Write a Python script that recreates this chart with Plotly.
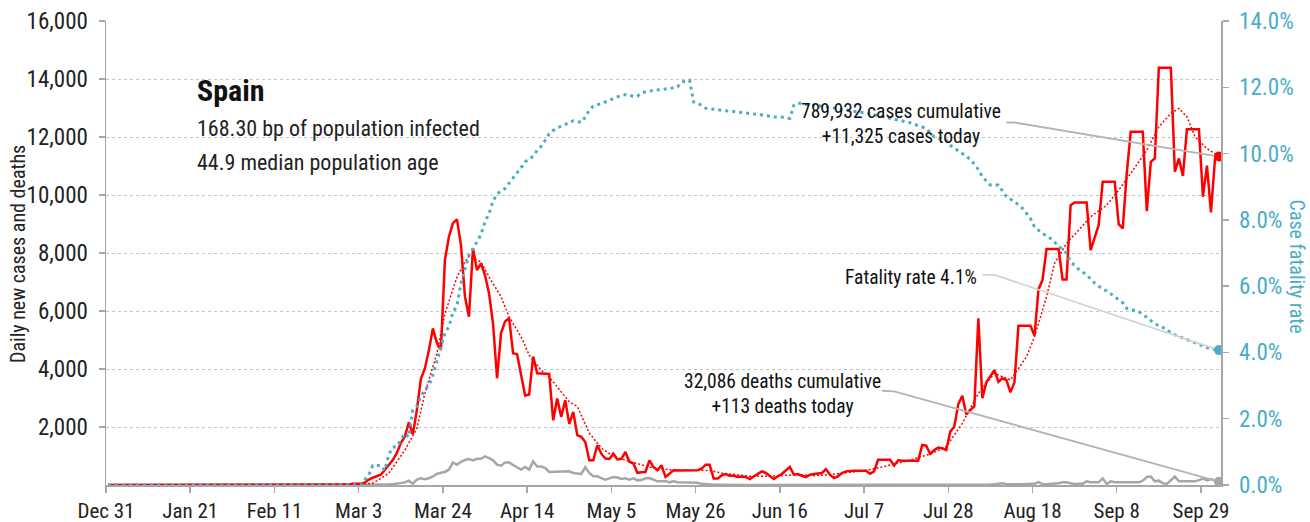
import pandas as pd
import plotly.graph_objects as go

# ---------------- data ----------------
start_date = "2019-12-31"

# daily new cases, Dec 31 2019 .. Oct 3 2020
new_cases = [0] * 56 + [
    4, 2, 3, 17, 13, 39, 36, 45, 80, 190,
    250, 290, 355, 515, 700, 860, 1100, 1450, 1665, 2160,
    1745, 2580, 3650, 4020, 4650, 5400, 4900, 4660, 7760, 8560,
    9030, 9160, 8275, 6495, 5806, 8160, 7410, 7640, 7230, 6610,
    5570, 3680, 5240, 5640, 5750, 4540, 4510, 3790, 3080, 3120,
    4430, 3850, 3850, 3850, 3830, 2230, 2980, 2350, 2920, 2110,
    2520, 1720, 1660, 1480, 850, 850, 1370, 1080, 910, 900,
    1080, 880, 900, 1140, 800, 740, 420, 440, 450, 850,
    620, 510, 680, 280, 400, 510, 500, 500, 500, 500,
    500, 510, 560, 700, 700, 220, 220, 330, 380, 320,
    320, 275, 290, 280, 207, 300, 380, 470, 415, 300,
    207, 300, 380, 500, 620, 356, 380, 320, 275, 356,
    390, 400, 414, 550, 356, 240, 300, 414, 470, 490,
    490, 490, 490, 490, 390, 470, 870, 870, 870, 870,
    666, 850, 840, 840, 840, 840, 840, 1380, 1355, 1070,
    1205, 1290, 1265, 1205, 1840, 2010, 2790, 3080, 2435, 2585,
    2720, 5745, 2990, 3540, 3760, 3960, 3560, 3680, 3620, 3195,
    3540, 5490, 5490, 5490, 5490, 5150, 6745, 7070, 8135, 8135,
    8135, 8135, 7090, 7090, 9650, 9745, 9745, 9745, 9745, 8100,
    8560, 8960, 10455, 10455, 10455, 10455, 8995, 8850, 10745, 12180,
    12180, 12180, 12180, 9445, 11145, 11260, 14385, 14385, 14385, 14385,
    10800, 11260, 10660, 12270, 12270, 12270, 12270, 9940, 11010, 9400,
    11240, 11325,
]

# daily new deaths
new_deaths = [0] * 63 + [
    1, 2, 3, 5, 10, 15, 20, 25, 30, 46,
    60, 90, 150, 46, 184, 230, 200, 230, 300, 380,
    420, 450, 530, 780, 700, 800, 860, 895, 850, 905,
    905, 990, 930, 850, 700, 665, 780, 780, 690, 610,
    530, 620, 530, 815, 640, 640, 585, 450, 450, 470,
    450, 460, 470, 413, 390, 380, 620, 413, 300, 300,
    240, 184, 230, 275, 260, 207, 230, 184, 230, 160,
    170, 230, 240, 184, 126, 130, 138, 92, 126, 92,
    85, 80, 80, 80, 80, 40, 20, 10, 5, 5,
    0, 0, 0, 0, 0, 0, 0, 0, 0, 0,
    0, 0, 0, 0, 0, 0, 0, 0, 0, 0,
    0, 0, 0, 0, 0, 0, 0, 0, 0, 0,
    0, 0, 0, 0, 0, 0, 0, 0, 0, 0,
    0, 0, 0, 0, 0, 0, 0, 0, 0, 0,
    5, 5, 5, 5, 5, 5, 5, 5, 5, 10,
    10, 15, 20, 20, 25, 20, 15, 20, 30, 40,
    57, 30, 25, 20, 30, 30, 35, 40, 40, 100,
    30, 30, 35, 40, 57, 92, 92, 57, 35, 40,
    40, 126, 92, 92, 92, 230, 35, 126, 92, 92,
    92, 92, 92, 92, 92, 150, 275, 290, 126, 150,
    57, 35, 170, 290, 126, 126, 126, 126, 126, 170,
    218, 160, 207, 150, 113,
]

# 7-day moving average of cases (day offset from start, value)
ma_days = [0, 60, 66, 70, 74, 77, 79, 82, 84, 87, 89, 90, 93, 95, 98, 100, 103, 105,
           108, 110, 112, 115, 117, 120, 123, 126, 130, 133, 136, 140, 146, 150, 153,
           156, 160, 164, 168, 172, 176, 180, 185, 189, 193, 197, 200, 205, 209, 213,
           217, 221, 225, 229, 231, 234, 236, 239, 242, 245, 249, 252, 255, 259, 262,
           265, 267, 269, 271, 274, 276, 277]
ma_values = [0, 10, 57, 400, 1200, 1950, 3160, 4535, 5900, 7175, 7690, 7890, 7690, 7175,
             6490, 5800, 5110, 4480, 3960, 3730, 3385, 2870, 2710, 1790, 1275, 985, 813,
             700, 585, 527, 500, 500, 413, 355, 300, 300, 322, 356, 322, 356, 437, 505,
             620, 758, 860, 1070, 1320, 2125, 3160, 3850, 3620, 4420, 5110, 6490, 7640,
             8330, 8790, 9250, 9650, 10170, 10745, 11550, 12350, 12810, 12985, 12700,
             12010, 11600, 11430, 11350]

# case fatality rate (%), day offset from start
cfr_days = [0, 63, 65, 66, 68, 69, 70, 71, 72, 73, 74, 75, 76, 77, 78, 79, 80, 81, 82,
            83, 84, 85, 86, 87, 88, 89, 90, 92, 93, 94, 95, 96, 97, 99, 100, 101, 102,
            103, 104, 106, 107, 108, 109, 110, 111, 113, 115, 116, 118, 119, 120, 121,
            123, 124, 126, 127, 129, 131, 132, 133, 135, 137, 139, 140, 142, 143, 145,
            146, 148, 149, 151, 153, 154, 156, 158, 161, 163, 164, 166, 168, 170, 171,
            172, 174, 177, 181, 185, 190, 193, 197, 200, 204, 206, 209, 210, 213, 215,
            217, 218, 220, 222, 224, 226, 228, 230, 231, 233, 235, 237, 239, 240, 242,
            244, 246, 248, 249, 251, 253, 254, 257, 259, 260, 262, 264, 265, 267, 269,
            271, 273, 275, 277]
cfr_pct = [0, 0, 0.30, 0.59, 0.59, 0.44, 0.91, 1.14, 1.16, 1.36, 1.55, 1.45, 2.27, 2.37,
           2.67, 2.87, 3.0, 3.32, 3.72, 4.18, 4.58, 4.78, 5.21, 5.41, 6.08, 6.51, 6.94,
           7.34, 7.56, 7.94, 8.19, 8.57, 8.78, 8.95, 9.1, 9.25, 9.43, 9.58, 9.75, 9.92,
           10.1, 10.22, 10.4, 10.6, 10.7, 10.83, 10.93, 10.99, 10.94, 11.1, 11.31, 11.43,
           11.51, 11.56, 11.64, 11.71, 11.78, 11.73, 11.73, 11.83, 11.89, 11.93, 11.95,
           11.96, 12.01, 12.16, 12.21, 11.56, 11.46, 11.37, 11.33, 11.31, 11.29, 11.27,
           11.24, 11.21, 11.17, 11.15, 11.1, 11.1, 11.06, 11.46, 11.53, 11.48, 11.45,
           11.38, 11.3, 11.2, 11.12, 11.0, 10.93, 10.76, 10.5, 10.4, 10.25, 10.0, 9.83,
           9.52, 9.3, 9.05, 9.05, 8.7, 8.55, 8.35, 8.04, 7.79, 7.59, 7.44, 7.21, 6.99,
           6.74, 6.51, 6.34, 6.09, 5.91, 5.86, 5.68, 5.5, 5.33, 5.23, 5.06, 4.96, 4.8,
           4.7, 4.58, 4.48, 4.38, 4.28, 4.18, 4.1, 4.07]

country = "Spain"
info_lines = ["168.30 bp of population infected", "44.9 median population age"]
cum_cases, today_cases = "789,932", "+11,325"
cum_deaths, today_deaths = "32,086", "+113"
fatality_text = "4.1%"

left_ticks = [2000, 4000, 6000, 8000, 10000, 12000, 14000, 16000]
right_ticks = [0, 0.02, 0.04, 0.06, 0.08, 0.10, 0.12, 0.14]

assert len(new_cases) == 278 and len(new_deaths) == 278
assert len(ma_days) == len(ma_values) and len(cfr_days) == len(cfr_pct)

# ---------------- build ----------------
base = pd.Timestamp(start_date)
dates = pd.date_range(base, periods=len(new_cases), freq="D")
ma_x = [base + pd.Timedelta(days=d) for d in ma_days]
cfr_x = [base + pd.Timedelta(days=d) for d in cfr_days]
cfr_frac = [v / 100 for v in cfr_pct]

RED = "#FF0000"
TEAL = "#4BACC6"
GRAY = "#A6A6A6"
FONT = "Roboto Condensed, DejaVu Sans Condensed, sans-serif"
DAY = 86400000
per = dict(xperiod=DAY, xperiodalignment="middle")

fig = go.Figure()
fig.add_trace(go.Scatter(x=dates, y=new_deaths, mode="lines",
                         line=dict(color=GRAY, width=2.5), hoverinfo="skip", **per))
fig.add_trace(go.Scatter(x=dates, y=new_cases, mode="lines",
                         line=dict(color=RED, width=2.5), hoverinfo="skip", **per))
fig.add_trace(go.Scatter(x=ma_x, y=ma_values, mode="lines",
                         line=dict(color=RED, width=1.5, dash="2px,2px"),
                         hoverinfo="skip", **per))
fig.add_trace(go.Scatter(x=cfr_x, y=cfr_frac, mode="lines", yaxis="y2",
                         line=dict(color=TEAL, width=3, dash="3px,4px"),
                         hoverinfo="skip", **per))

# leader lines from the labels to the latest values
def day(n):
    return base + pd.Timedelta(days=n)

fig.add_trace(go.Scatter(x=[day(224), day(226), dates[-1]], y=[12500, 12500, new_cases[-1]],
                         mode="lines", line=dict(color="#B4B4B4", width=1.8),
                         hoverinfo="skip", **per))
fig.add_trace(go.Scatter(x=[day(218), day(221), cfr_x[-1]], y=[0.0634, 0.0634, cfr_frac[-1]],
                         mode="lines", yaxis="y2", line=dict(color="#D4D4D4", width=1.8),
                         hoverinfo="skip", **per))
fig.add_trace(go.Scatter(x=[day(193), day(196), dates[-1]], y=[3250, 3230, new_deaths[-1]],
                         mode="lines", line=dict(color="#B4B4B4", width=1.8),
                         hoverinfo="skip", **per))

# end markers
fig.add_trace(go.Scatter(x=[dates[-1]], y=[new_deaths[-1]], mode="markers",
                         marker=dict(color=GRAY, size=10), hoverinfo="skip", **per))
fig.add_trace(go.Scatter(x=[dates[-1]], y=[new_cases[-1]], mode="markers",
                         marker=dict(color=RED, size=10), hoverinfo="skip", **per))
fig.add_trace(go.Scatter(x=[cfr_x[-1]], y=[cfr_frac[-1]], mode="markers", yaxis="y2",
                         marker=dict(color=TEAL, size=10), hoverinfo="skip", **per))

ann = [
    dict(x=0.0795, y=0.851, text="<b>%s</b>" % country, font=dict(size=30, color="#111")),
    dict(x=0.0795, y=0.769, text=info_lines[0], font=dict(size=22, color="#222")),
    dict(x=0.0795, y=0.694, text=info_lines[1], font=dict(size=22, color="#222")),
]
for a in ann:
    a.update(xref="paper", yref="paper", xanchor="left", yanchor="middle", showarrow=False)

ann += [
    dict(x=0.7127, y=0.7787, xref="paper", yref="paper", xanchor="center", yanchor="middle",
         align="center", showarrow=False, font=dict(size=19.5, color="#111"),
         text="%s cases cumulative<br>%s cases today" % (cum_cases, today_cases)),
    dict(x=0.6063, y=0.1954, xref="paper", yref="paper", xanchor="center", yanchor="middle",
         align="center", showarrow=False, font=dict(size=19.5, color="#111"),
         text="%s deaths cumulative<br>%s deaths today" % (cum_deaths, today_deaths)),
    dict(x=0.783, y=0.4462, xref="paper", yref="paper", xanchor="right", yanchor="middle",
         showarrow=False, font=dict(size=19.5, color="#111"),
         text="Fatality rate %s" % fatality_text),
    dict(x=-0.0789, y=0.498, xref="paper", yref="paper", xanchor="center", yanchor="middle",
         textangle=-90, showarrow=False, font=dict(size=20, color="#222"),
         text="Daily new cases and deaths"),
    dict(x=1.0685, y=0.47, xref="paper", yref="paper", xanchor="center", yanchor="middle",
         textangle=90, showarrow=False, font=dict(size=20, color=TEAL),
         text="Case fatality rate"),
]

fig.update_layout(
    width=1310, height=522,
    margin=dict(l=106, r=89, t=21, b=37, autoexpand=False),
    paper_bgcolor="white", plot_bgcolor="white",
    showlegend=False,
    font=dict(family=FONT, size=20, color="#222"),
    annotations=ann,
    xaxis=dict(
        type="date", range=[start_date, "2020-10-04"], automargin=False,
        tick0=start_date, dtick=21 * DAY, tickformat="%b %-d",
        showgrid=False, zeroline=False,
        showline=True, linecolor=GRAY, linewidth=2,
        ticks="outside", ticklen=6, tickcolor=GRAY, tickwidth=1.5,
        tickfont=dict(size=21, color="#222", family=FONT),
    ),
    yaxis=dict(
        range=[0, 16000], tickvals=left_ticks, tickformat=",", automargin=False,
        showgrid=True, gridcolor="#C4C4C4", griddash="dot", gridwidth=1,
        zeroline=False, showline=True, linecolor=GRAY, linewidth=1.5,
        ticks="outside", ticklen=6, tickcolor=GRAY, tickwidth=1.5,
        ticklabelstandoff=6,
        tickfont=dict(size=23, color="#222", family=FONT),
    ),
    yaxis2=dict(
        overlaying="y", side="right", range=[0, 0.14], tickvals=right_ticks,
        tickformat=".1%", showgrid=False, zeroline=False, automargin=False,
        showline=True, linecolor=GRAY, linewidth=1.5,
        ticks="outside", ticklen=6, tickcolor=GRAY, tickwidth=1.5,
        ticklabelstandoff=6,
        tickfont=dict(size=23, color=TEAL, family=FONT),
    ),
)

fig.write_html("out.html", config={"displayModeBar": False, "staticPlot": True},
               post_script="document.body.style.margin='0';")
